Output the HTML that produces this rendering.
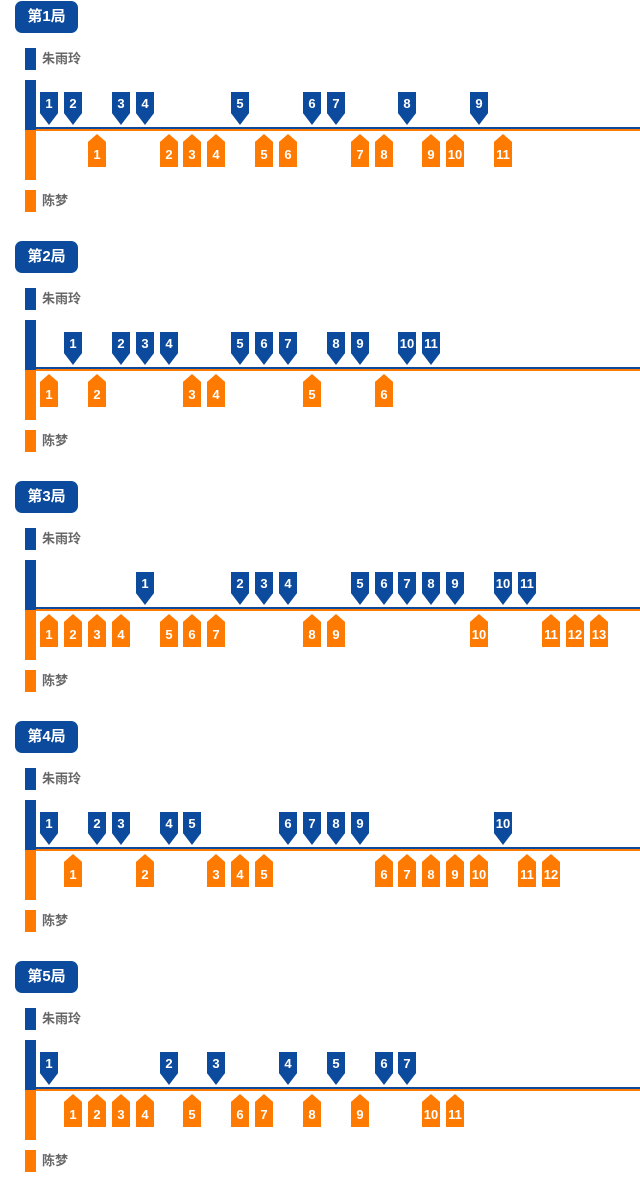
<!DOCTYPE html>
<html><head><meta charset="utf-8"><style>
body{margin:0;width:640px;height:1179px;background:#fff;position:relative;overflow:hidden;font-family:"Liberation Sans","Noto Sans CJK SC",sans-serif}
.s{position:absolute;left:0;width:640px;height:240px}
.t{position:absolute;left:15px;top:1px;width:63px;height:32px;background:#0b4a9d;border-radius:7px;color:#fff;font-weight:bold;font-size:15px;line-height:32px;text-align:center}
.lb{position:absolute;left:25px;width:11px;height:22px}
.ln{position:absolute;left:42px;font-size:13px;font-weight:bold;color:#666;line-height:22px}
.bar{position:absolute;left:25px;width:11px;height:50px}
.hb{position:absolute;left:36px;width:604px;height:2px;top:127px;background:#0b4a9d}
.ho{position:absolute;left:36px;width:604px;height:2px;top:129px;background:#ff7a00}
.b,.o{position:absolute;width:18px;height:33px;color:#fff;font-weight:bold;font-size:13px;text-align:center}
.b{top:92px;background:#0b4a9d;clip-path:polygon(0 0,100% 0,100% 64%,50% 100%,0 64%);line-height:24px}
.o{top:134px;background:#ff7a00;clip-path:polygon(50% 0,100% 24%,100% 100%,0 100%,0 24%);line-height:42px}
</style></head><body>

<div class="s" style="top:0">
<div class="t">第1局</div>
<div class="lb" style="top:48px;background:#0b4a9d"></div><div class="ln" style="top:48px">朱雨玲</div>
<div class="bar" style="top:80px;background:#0b4a9d"></div><div class="bar" style="top:130px;background:#ff7a00"></div>
<div class="hb"></div><div class="ho"></div>
<div class="lb" style="top:190px;background:#ff7a00"></div><div class="ln" style="top:190px">陈梦</div>
<div class="b" style="left:40px">1</div><div class="b" style="left:64px">2</div><div class="b" style="left:112px">3</div><div class="b" style="left:136px">4</div><div class="b" style="left:231px">5</div><div class="b" style="left:303px">6</div><div class="b" style="left:327px">7</div><div class="b" style="left:398px">8</div><div class="b" style="left:470px">9</div>
<div class="o" style="left:88px">1</div><div class="o" style="left:160px">2</div><div class="o" style="left:183px">3</div><div class="o" style="left:207px">4</div><div class="o" style="left:255px">5</div><div class="o" style="left:279px">6</div><div class="o" style="left:351px">7</div><div class="o" style="left:375px">8</div><div class="o" style="left:422px">9</div><div class="o" style="left:446px">10</div><div class="o" style="left:494px">11</div>
</div>

<div class="s" style="top:240px">
<div class="t">第2局</div>
<div class="lb" style="top:48px;background:#0b4a9d"></div><div class="ln" style="top:48px">朱雨玲</div>
<div class="bar" style="top:80px;background:#0b4a9d"></div><div class="bar" style="top:130px;background:#ff7a00"></div>
<div class="hb"></div><div class="ho"></div>
<div class="lb" style="top:190px;background:#ff7a00"></div><div class="ln" style="top:190px">陈梦</div>
<div class="b" style="left:64px">1</div><div class="b" style="left:112px">2</div><div class="b" style="left:136px">3</div><div class="b" style="left:160px">4</div><div class="b" style="left:231px">5</div><div class="b" style="left:255px">6</div><div class="b" style="left:279px">7</div><div class="b" style="left:327px">8</div><div class="b" style="left:351px">9</div><div class="b" style="left:398px">10</div><div class="b" style="left:422px">11</div>
<div class="o" style="left:40px">1</div><div class="o" style="left:88px">2</div><div class="o" style="left:183px">3</div><div class="o" style="left:207px">4</div><div class="o" style="left:303px">5</div><div class="o" style="left:375px">6</div>
</div>

<div class="s" style="top:480px">
<div class="t">第3局</div>
<div class="lb" style="top:48px;background:#0b4a9d"></div><div class="ln" style="top:48px">朱雨玲</div>
<div class="bar" style="top:80px;background:#0b4a9d"></div><div class="bar" style="top:130px;background:#ff7a00"></div>
<div class="hb"></div><div class="ho"></div>
<div class="lb" style="top:190px;background:#ff7a00"></div><div class="ln" style="top:190px">陈梦</div>
<div class="b" style="left:136px">1</div><div class="b" style="left:231px">2</div><div class="b" style="left:255px">3</div><div class="b" style="left:279px">4</div><div class="b" style="left:351px">5</div><div class="b" style="left:375px">6</div><div class="b" style="left:398px">7</div><div class="b" style="left:422px">8</div><div class="b" style="left:446px">9</div><div class="b" style="left:494px">10</div><div class="b" style="left:518px">11</div>
<div class="o" style="left:40px">1</div><div class="o" style="left:64px">2</div><div class="o" style="left:88px">3</div><div class="o" style="left:112px">4</div><div class="o" style="left:160px">5</div><div class="o" style="left:183px">6</div><div class="o" style="left:207px">7</div><div class="o" style="left:303px">8</div><div class="o" style="left:327px">9</div><div class="o" style="left:470px">10</div><div class="o" style="left:542px">11</div><div class="o" style="left:566px">12</div><div class="o" style="left:590px">13</div>
</div>

<div class="s" style="top:720px">
<div class="t">第4局</div>
<div class="lb" style="top:48px;background:#0b4a9d"></div><div class="ln" style="top:48px">朱雨玲</div>
<div class="bar" style="top:80px;background:#0b4a9d"></div><div class="bar" style="top:130px;background:#ff7a00"></div>
<div class="hb"></div><div class="ho"></div>
<div class="lb" style="top:190px;background:#ff7a00"></div><div class="ln" style="top:190px">陈梦</div>
<div class="b" style="left:40px">1</div><div class="b" style="left:88px">2</div><div class="b" style="left:112px">3</div><div class="b" style="left:160px">4</div><div class="b" style="left:183px">5</div><div class="b" style="left:279px">6</div><div class="b" style="left:303px">7</div><div class="b" style="left:327px">8</div><div class="b" style="left:351px">9</div><div class="b" style="left:494px">10</div>
<div class="o" style="left:64px">1</div><div class="o" style="left:136px">2</div><div class="o" style="left:207px">3</div><div class="o" style="left:231px">4</div><div class="o" style="left:255px">5</div><div class="o" style="left:375px">6</div><div class="o" style="left:398px">7</div><div class="o" style="left:422px">8</div><div class="o" style="left:446px">9</div><div class="o" style="left:470px">10</div><div class="o" style="left:518px">11</div><div class="o" style="left:542px">12</div>
</div>

<div class="s" style="top:960px">
<div class="t">第5局</div>
<div class="lb" style="top:48px;background:#0b4a9d"></div><div class="ln" style="top:48px">朱雨玲</div>
<div class="bar" style="top:80px;background:#0b4a9d"></div><div class="bar" style="top:130px;background:#ff7a00"></div>
<div class="hb"></div><div class="ho"></div>
<div class="lb" style="top:190px;background:#ff7a00"></div><div class="ln" style="top:190px">陈梦</div>
<div class="b" style="left:40px">1</div><div class="b" style="left:160px">2</div><div class="b" style="left:207px">3</div><div class="b" style="left:279px">4</div><div class="b" style="left:327px">5</div><div class="b" style="left:375px">6</div><div class="b" style="left:398px">7</div>
<div class="o" style="left:64px">1</div><div class="o" style="left:88px">2</div><div class="o" style="left:112px">3</div><div class="o" style="left:136px">4</div><div class="o" style="left:183px">5</div><div class="o" style="left:231px">6</div><div class="o" style="left:255px">7</div><div class="o" style="left:303px">8</div><div class="o" style="left:351px">9</div><div class="o" style="left:422px">10</div><div class="o" style="left:446px">11</div>
</div>

</body></html>
